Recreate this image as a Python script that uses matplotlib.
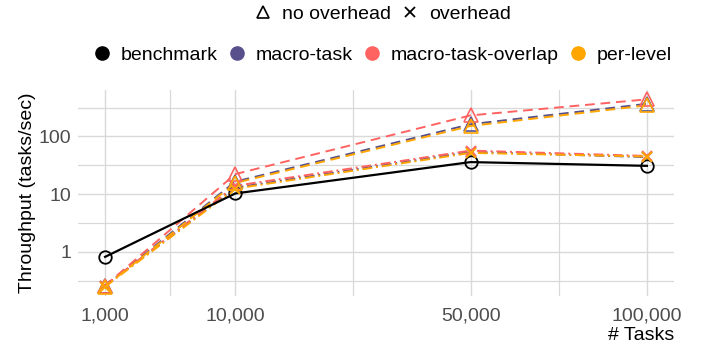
import numpy as np
import matplotlib.pyplot as plt
from matplotlib.lines import Line2D

plt.rcParams["font.family"] = ["Liberation Sans", "DejaVu Sans"]

tasks = [1000, 10000, 50000, 100000]
x_ticks = [1000, 10000, 50000, 100000]
x_tick_labels = ["1,000", "10,000", "50,000", "100,000"]
y_ticks = [1, 10, 100]
y_tick_labels = ["1", "10", "100"]

benchmark = [0.82, 10.3, 36, 31]

# throughput without scheduling overhead
macro_task_no = [0.26, 16.5, 163, 368]
overlap_no = [0.26, 22.3, 232, 440]
per_level_no = [0.25, 15.7, 152, 347]

# throughput with scheduling overhead
macro_task_oh = [0.26, 13, 54, 44]
overlap_oh = [0.26, 14, 57, 46]
per_level_oh = [0.25, 12.5, 52, 45]

colors = {
    "benchmark": "black",
    "macro-task": "#58508d",
    "macro-task-overlap": "#ff6361",
    "per-level": "#ffa600",
}
series = [
    ("macro-task", macro_task_no, macro_task_oh),
    ("macro-task-overlap", overlap_no, overlap_oh),
    ("per-level", per_level_no, per_level_oh),
]

dashed = (0, (5, 3))
dotdash = (0, (5, 2, 1, 2))

fig = plt.figure(figsize=(7.01, 3.47), dpi=100)
ax = fig.add_axes([78 / 701, 1 - 296 / 347, (674 - 78) / 701, (296 - 90) / 347])

ax.set_xscale("function", functions=(lambda v: np.sqrt(np.clip(v, 0, None)), lambda v: np.square(v)))
ax.set_yscale("log")

ax.plot(tasks, benchmark, color=colors["benchmark"], lw=1.6, zorder=3)
for name, no_oh, oh in series:
    ax.plot(tasks, no_oh, color=colors[name], lw=1.4, ls=dashed, zorder=2)
    ax.plot(tasks, oh, color=colors[name], lw=1.4, ls=dotdash, zorder=2)

ax.plot(tasks, benchmark, ls="none", marker="o", ms=9, mfc="none",
        mec=colors["benchmark"], mew=1.3, zorder=4)
for name, no_oh, oh in series:
    ax.plot(tasks, no_oh, ls="none", marker="^", ms=9.5, mfc="none",
            mec=colors[name], mew=1.2, zorder=4)
    ax.plot(tasks, oh, ls="none", marker="x", ms=7.5, mec=colors[name],
            mew=1.4, zorder=4)

ax.margins(x=0.05, y=0.05)

# grid: major on ticks, minor halfway between them in transformed space
x_minor = [((np.sqrt(a) + np.sqrt(b)) / 2) ** 2 for a, b in zip(x_ticks[:-1], x_ticks[1:])]
y_minor = [10 ** (k + 0.5) for k in range(-1, 3)]
ax.set_xticks(x_ticks)
ax.set_xticklabels(x_tick_labels)
ax.set_xticks(x_minor, minor=True)
ax.set_yticks(y_ticks)
ax.set_yticklabels(y_tick_labels)
ax.set_yticks(y_minor, minor=True)
ax.yaxis.set_minor_formatter(plt.NullFormatter())
ax.xaxis.set_minor_formatter(plt.NullFormatter())

ax.grid(True, which="major", color="#d9d9d9", lw=1.0)
ax.grid(True, which="minor", color="#d9d9d9", lw=0.9)
ax.set_axisbelow(True)
for s in ax.spines.values():
    s.set_visible(False)
ax.tick_params(which="both", length=0, labelsize=14, labelcolor="#4d4d4d")
ax.tick_params(axis="x", pad=8)
ax.tick_params(axis="y", pad=5)

ax.set_ylabel("Throughput (tasks/sec)", fontsize=14, labelpad=2)
ax.set_xlabel("# Tasks", fontsize=14, loc="right", labelpad=2)

shape_handles = [
    Line2D([], [], ls="none", marker="^", ms=8.5, mfc="none", mec="black", mew=1.2),
    Line2D([], [], ls="none", marker="x", ms=7, mec="black", mew=1.3),
]
fig.legend(shape_handles, ["no overhead", "overhead"], loc="center",
           bbox_to_anchor=(0.545, 1 - 14 / 347), ncol=2, frameon=False,
           fontsize=14, handlelength=1.0, handletextpad=0.45, columnspacing=0.5,
           borderpad=0)

color_handles = [
    Line2D([], [], ls="none", marker="o", ms=9.5, color=c) for c in colors.values()
]
fig.legend(color_handles, list(colors), loc="center",
           bbox_to_anchor=(0.545, 1 - 55 / 347), ncol=4, frameon=False,
           fontsize=14, handlelength=1.0, handletextpad=0.45, columnspacing=0.5,
           borderpad=0)

fig.savefig("out.png", dpi=100)
